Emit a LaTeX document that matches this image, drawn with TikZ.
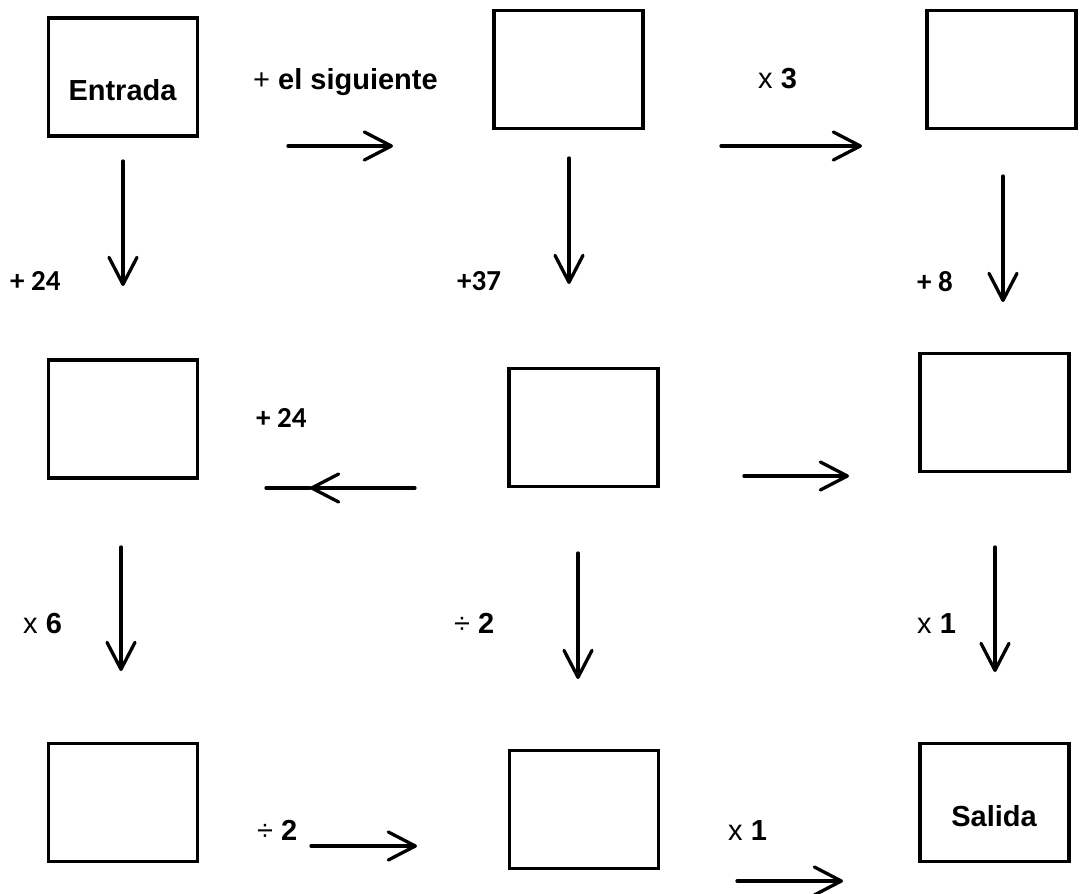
\documentclass[tikz,border=0pt]{standalone}
\usepackage{fontspec}
\setmainfont{Liberation Sans}
\newfontfamily\carlfont{Carlito}
\usetikzlibrary{arrows.meta}
\begin{document}
\begin{tikzpicture}[x=1pt,y=-1pt,
  boxnode/.style={draw=black,line width=3.8pt,minimum width=149pt,minimum height=118pt,inner sep=0pt},
  txt/.style={inner sep=0pt,anchor=base west,font=\fontsize{29}{33}\selectfont},
  ctxt/.style={inner sep=0pt,anchor=base,font=\fontsize{29}{33}\selectfont\bfseries},
  ctxtc/.style={inner sep=0pt,anchor=base west,font=\fontsize{29}{33}\selectfont\carlfont\bfseries},
  arr/.style={line width=3.3pt,line cap=round,-{Straight Barb[length=27pt,width=28pt,round]}},
  plain/.style={line width=3.3pt,line cap=round}]
\useasboundingbox (0,0) rectangle (1080,894);
% boxes
\node[boxnode] (b1) at (123,77) {};
\node[boxnode] (b2) at (568.5,69.5) {};
\node[boxnode] (b3) at (1001.5,69.5) {};
\node[boxnode] (b4) at (123,419) {};
\node[boxnode] (b5) at (583.5,427.5) {};
\node[boxnode] (b6) at (994.5,412.5) {};
\node[boxnode] (b7) at (123,802.5) {};
\node[boxnode] (b8) at (584,809.5) {};
\node[boxnode] (b9) at (994.5,802.5) {};
% box texts
\node[ctxt] (entrada) at (122.5,100) {Entrada};
\node[ctxt] (salida) at (994,826) {Salida};
% labels
\node[txt] (l1) at (253,89) {+ \textbf{el siguiente}};
\node[txt] (l2) at (758,88) {x \textbf{3}};
\node[ctxtc] (l3) at (10,290) {+ 24};
\node[ctxtc] (l4) at (457,290) {+37};
\node[ctxtc] (l5) at (917,291) {+ 8};
\node[ctxtc] (l6) at (256,427) {+ 24};
\node[txt] (l7) at (23,633) {x \textbf{6}};
\node[txt] (l8) at (454,633) {÷ \textbf{2}};
\node[txt] (l9) at (917,633) {x \textbf{1}};
\node[txt] (l10) at (257,840) {÷ \textbf{2}};
\node[txt] (l11) at (728,840) {x \textbf{1}};
% arrow end points
\coordinate (a1s) at (288,146); \coordinate (a1e) at (393,146);
\coordinate (a2s) at (721,146); \coordinate (a2e) at (862,146);
\coordinate (d1s) at (123,161); \coordinate (d1e) at (123,286);
\coordinate (d2s) at (569,158); \coordinate (d2e) at (569,284);
\coordinate (d3s) at (1003,176); \coordinate (d3e) at (1003,302);
\coordinate (ls) at (415,488); \coordinate (lt) at (310,488); \coordinate (le) at (266,488);
\coordinate (r3s) at (744,476); \coordinate (r3e) at (849,476);
\coordinate (d4s) at (121,547); \coordinate (d4e) at (121,671);
\coordinate (d5s) at (578,553); \coordinate (d5e) at (578,679);
\coordinate (d6s) at (995,547); \coordinate (d6e) at (995,672);
\coordinate (r4s) at (311,846); \coordinate (r4e) at (417,846);
\coordinate (r5s) at (737,881); \coordinate (r5e) at (843,881);
% arrows
\draw[arr] (a1s) -- (a1e);
\draw[arr] (a2s) -- (a2e);
\draw[arr] (d1s) -- (d1e);
\draw[arr] (d2s) -- (d2e);
\draw[arr] (d3s) -- (d3e);
\draw[arr] (ls) -- (lt);
\draw[plain] (lt) -- (le);
\draw[arr] (r3s) -- (r3e);
\draw[arr] (d4s) -- (d4e);
\draw[arr] (d5s) -- (d5e);
\draw[arr] (d6s) -- (d6e);
\draw[arr] (r4s) -- (r4e);
\draw[arr] (r5s) -- (r5e);
\end{tikzpicture}
\end{document}
